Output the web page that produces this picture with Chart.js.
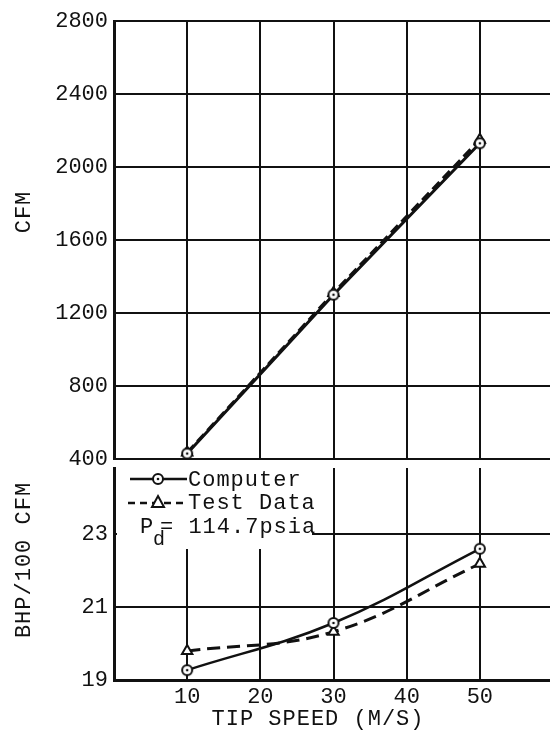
<!DOCTYPE html>
<html>
<head>
<meta charset="utf-8">
<script src="https://cdn.jsdelivr.net/npm/chart.js@4"></script>
<style>
  body { margin: 0; background: #fff; overflow: hidden; }
  #page { position: relative; width: 550px; height: 740px; overflow: hidden; }
  #top-wrap { position: absolute; left: 0; top: 0; }
  #bottom-wrap { position: absolute; left: 0; top: 440px; }
</style>
</head>
<body>
<div id="page">
  <div id="top-wrap"><canvas id="diag-cfm" width="570" height="480"></canvas></div>
  <div id="bottom-wrap"><canvas id="diag-bhp" width="570" height="300"></canvas></div>
</div>
<script>
// data
const tipSpeed = [10, 30, 50];
const cfmComputer = [430, 1300, 2130];
const cfmTest = [435, 1310, 2150];
const bhpComputer = [19.27, 20.56, 22.59];
const bhpTest = [19.79, 20.32, 22.18];

// tick labels
const speedTicks = [10, 20, 30, 40, 50];
const cfmTicks = [400, 800, 1200, 1600, 2000, 2400, 2800];
const bhpTicks = [19, 21, 23];

const FONT = '"Liberation Mono", "DejaVu Sans Mono", monospace';
const INK = '#111';

// circle with a dot in the middle, used as point style
function circleDot(r) {
  const c = document.createElement('canvas');
  c.width = c.height = 2 * r + 4;
  const ctx = c.getContext('2d');
  const m = r + 2;
  ctx.beginPath();
  ctx.arc(m, m, r, 0, Math.PI * 2);
  ctx.fillStyle = '#fff';
  ctx.fill();
  ctx.lineWidth = 2;
  ctx.strokeStyle = INK;
  ctx.stroke();
  ctx.beginPath();
  ctx.arc(m, m, 1.3, 0, Math.PI * 2);
  ctx.fillStyle = INK;
  ctx.fill();
  return c;
}
const dotImg = circleDot(5);

function spaced(ctx, txt, x, y) {
  ctx.letterSpacing = '1px';
  ctx.fillText(txt, x, y);
  ctx.letterSpacing = '0px';
}

// y axis title, rotated
function yTitle(text, cx, cy) {
  return {
    id: 'ytitle',
    afterDraw(chart) {
      const ctx = chart.ctx;
      ctx.save();
      ctx.translate(cx, cy);
      ctx.rotate(-Math.PI / 2);
      ctx.font = '22px ' + FONT;
      ctx.fillStyle = INK;
      ctx.textAlign = 'center';
      ctx.textBaseline = 'middle';
      spaced(ctx, text, 0, 0);
      ctx.restore();
    }
  };
}

const gridOpts = { color: INK, lineWidth: 2, drawTicks: false };
const tickFont = { family: FONT, size: 22 };
const plain = v => String(v);

// ---------------- top panel : CFM
new Chart(document.getElementById('diag-cfm'), {
  type: 'line',
  data: {
    labels: tipSpeed,
    datasets: [{
      label: 'Computer',
      data: tipSpeed.map((x, i) => ({ x: x, y: cfmComputer[i] })),
      borderColor: INK,
      borderWidth: 3,
      pointStyle: dotImg,
      tension: 0
    }, {
      label: 'Test Data',
      data: tipSpeed.map((x, i) => ({ x: x, y: cfmTest[i] })),
      borderColor: INK,
      borderWidth: 3,
      borderDash: [10, 5],
      pointStyle: 'triangle',
      pointRadius: 6,
      pointBackgroundColor: '#fff',
      pointBorderColor: INK,
      pointBorderWidth: 2,
      tension: 0
    }]
  },
  options: {
    responsive: false,
    animation: false,
    layout: { padding: { top: 21, bottom: 21, left: 0, right: 17 } },
    plugins: { legend: { display: false }, tooltip: { enabled: false } },
    scales: {
      x: {
        type: 'linear', min: 0, max: 60,
        afterBuildTicks: s => { s.ticks = speedTicks.map(v => ({ value: v })); },
        afterFit: s => { s.height = 0; },
        ticks: { display: false },
        grid: gridOpts,
        border: { display: false }
      },
      y: {
        min: 400, max: 2800,
        afterBuildTicks: s => { s.ticks = cfmTicks.map(v => ({ value: v })); },
        afterFit: s => { s.width = 114; },
        ticks: { color: INK, font: tickFont, padding: 6, callback: plain },
        grid: gridOpts,
        border: { color: INK, width: 3 }
      }
    }
  },
  plugins: [yTitle('CFM', 24, 212)]
});

// legend box + x title of the lower panel
const lowerText = {
  id: 'lowerText',
  afterDraw(chart) {
    const ctx = chart.ctx;
    ctx.save();
    // white box over the grid
    ctx.fillStyle = '#fff';
    ctx.fillRect(117, 28, 195, 81);

    ctx.strokeStyle = INK;
    ctx.fillStyle = INK;
    ctx.font = '22px ' + FONT;
    ctx.textBaseline = 'alphabetic';

    // computer entry
    ctx.lineWidth = 2.5;
    ctx.beginPath(); ctx.moveTo(130, 39); ctx.lineTo(187, 39); ctx.stroke();
    ctx.drawImage(dotImg, 158 - dotImg.width / 2, 39 - dotImg.height / 2);
    spaced(ctx, 'Computer', 188, 46);

    // test data entry
    ctx.setLineDash([7, 5]);
    ctx.beginPath(); ctx.moveTo(128, 63); ctx.lineTo(187, 63); ctx.stroke();
    ctx.setLineDash([]);
    ctx.lineWidth = 2;
    ctx.beginPath();
    ctx.moveTo(158, 56); ctx.lineTo(164, 67); ctx.lineTo(152, 67); ctx.closePath();
    ctx.fillStyle = '#fff'; ctx.fill(); ctx.stroke();
    ctx.fillStyle = INK;
    spaced(ctx, 'Test Data', 188, 69);

    // discharge pressure
    spaced(ctx, 'P', 140, 93);
    ctx.font = '20px ' + FONT;
    ctx.fillText('d', 153, 105);
    ctx.font = '22px ' + FONT;
    spaced(ctx, '= 114.7psia', 160, 93);

    // x title
    ctx.textAlign = 'center';
    spaced(ctx, 'TIP SPEED (M/S)', 318, 285);
    ctx.restore();
  }
};

// ---------------- lower panel : BHP/100 CFM
new Chart(document.getElementById('diag-bhp'), {
  type: 'line',
  data: {
    labels: tipSpeed,
    datasets: [{
      label: 'Computer',
      data: tipSpeed.map((x, i) => ({ x: x, y: bhpComputer[i] })),
      borderColor: INK,
      borderWidth: 2.5,
      pointStyle: dotImg,
      tension: 0.4
    }, {
      label: 'Test Data',
      data: tipSpeed.map((x, i) => ({ x: x, y: bhpTest[i] })),
      borderColor: INK,
      borderWidth: 3,
      borderDash: [13, 7],
      pointStyle: 'triangle',
      pointRadius: 6,
      pointBackgroundColor: '#fff',
      pointBorderColor: INK,
      pointBorderWidth: 2,
      tension: 0.4
    }]
  },
  options: {
    responsive: false,
    animation: false,
    layout: { padding: { top: 28, bottom: 0, left: 0, right: 17 } },
    plugins: { legend: { display: false }, tooltip: { enabled: false } },
    scales: {
      x: {
        type: 'linear', min: 0, max: 60,
        afterBuildTicks: s => { s.ticks = speedTicks.map(v => ({ value: v })); },
        afterFit: s => { s.height = 60; },
        ticks: { color: INK, font: tickFont, padding: 4, callback: plain },
        grid: gridOpts,
        border: { color: INK, width: 3 }
      },
      y: {
        min: 19, max: 24.8,
        afterBuildTicks: s => { s.ticks = bhpTicks.map(v => ({ value: v })); },
        afterFit: s => { s.width = 114; },
        ticks: { color: INK, font: tickFont, padding: 6, callback: plain },
        grid: gridOpts,
        border: { color: INK, width: 3 }
      }
    }
  },
  plugins: [yTitle('BHP/100 CFM', 24, 120), lowerText]
});
</script>
</body>
</html>
